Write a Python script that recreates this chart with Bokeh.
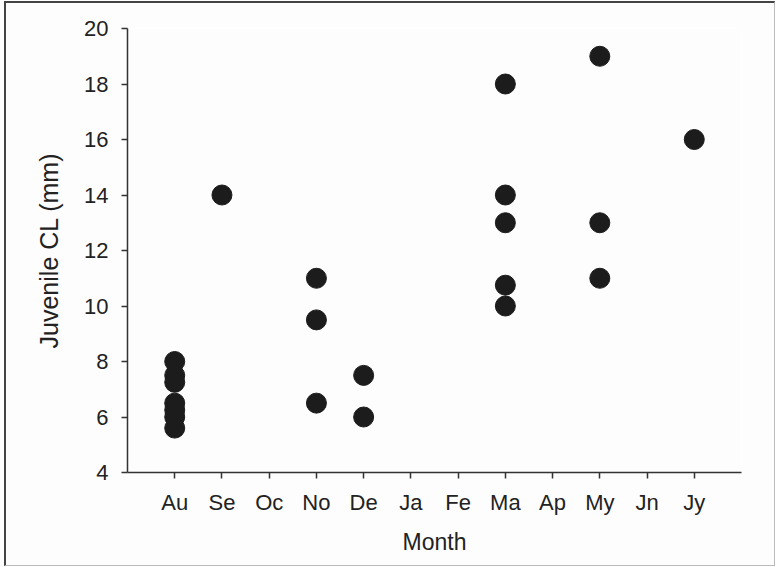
from bokeh.plotting import figure
from bokeh.models import Range1d, FixedTicker, ColumnDataSource
from bokeh.embed import file_html
from bokeh.resources import INLINE

# ---- data ----
months = ["Au", "Se", "Oc", "No", "De", "Ja", "Fe", "Ma", "Ap", "My", "Jn", "Jy"]
point_month = ["Au"] * 7 + ["Se"] + ["No"] * 3 + ["De"] * 2 + ["Ma"] * 5 + ["My"] * 3 + ["Jy"]
juvenile_cl = [8, 7.5, 7.25, 6.5, 6.25, 6.0, 5.6,
               14,
               11, 9.5, 6.5,
               7.5, 6,
               18, 14, 13, 10.75, 10,
               19, 13, 11,
               16]
y_ticks = [4, 6, 8, 10, 12, 14, 16, 18, 20]

month_pos = {m: i + 1 for i, m in enumerate(months)}
src = ColumnDataSource(dict(x=[month_pos[m] for m in point_month], y=juvenile_cl))

W, H = 771, 565
p = figure(width=W, height=H, output_backend="svg", toolbar_location=None,
           x_range=Range1d(0, len(months) + 1), y_range=Range1d(4, 20),
           min_border_left=121, min_border_right=36,
           min_border_top=25, min_border_bottom=96)
p.styles = {"margin-left": "4px", "margin-top": "1px",
            "border-left": "2px solid #444", "border-top": "2px solid #444",
            "border-right": "1px solid #bbb", "border-bottom": "1px solid #bbb"}
p.background_fill_color = "#fdfdfd"
p.border_fill_color = "#fdfdfd"
p.outline_line_color = None
p.grid.visible = False

p.scatter("x", "y", source=src, size=20, fill_color="#1c1c1c", line_color="#1c1c1c")

TXT = "#222222"
FONT = "Liberation Sans"

xa = p.xaxis[0]
xa.ticker = FixedTicker(ticks=list(range(1, len(months) + 1)))
xa.major_label_overrides = {i + 1: m for i, m in enumerate(months)}
xa.axis_label = "Month"

ya = p.yaxis[0]
ya.ticker = FixedTicker(ticks=y_ticks)
ya.axis_label = "Juvenile CL (mm)"

for ax in (xa, ya):
    ax.axis_line_color = "#333333"
    ax.axis_line_width = 1.5
    ax.major_tick_line_color = "#333333"
    ax.major_tick_line_width = 1.5
    ax.major_tick_in = 0
    ax.major_tick_out = 6
    ax.minor_tick_line_color = None
    ax.major_label_text_font = FONT
    ax.major_label_text_font_size = "22px"
    ax.major_label_text_color = TXT
    ax.axis_label_text_font = FONT
    ax.axis_label_text_font_style = "normal"
    ax.axis_label_text_font_size = "23px"
    ax.axis_label_text_color = TXT

xa.major_label_standoff = 11
xa.axis_label_standoff = 11
ya.major_label_standoff = 13
ya.axis_label_standoff = 18
ya.axis_label_text_font_size = "25px"

open("out.html", "w").write(file_html(p, INLINE))
